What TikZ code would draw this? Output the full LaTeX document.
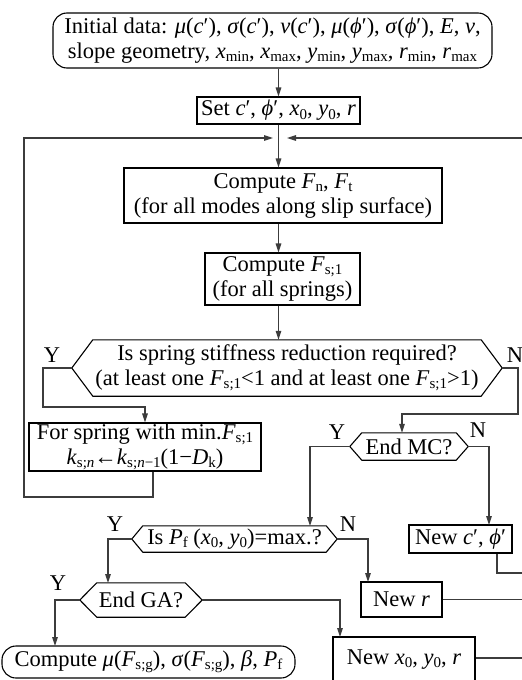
\documentclass[tikz,border=0pt]{standalone}
\usepackage{fontspec}
\setmainfont{Liberation Serif}
\usetikzlibrary{arrows.meta,calc}
\newcommand\mv[1]{\textit{#1}}
\newcommand\sbs[1]{\raisebox{-0.32ex}{\fontsize{15}{15}\selectfont #1}}
\newcommand\hexnode[6]{%
  \node[hexbox,minimum width=#3,minimum height=#4] (#1) at #2 {#6};
  \draw[boxline] (#1.west) -- ([xshift=#5]#1.north west) -- ([xshift=-#5]#1.north east) -- (#1.east) -- ([xshift=-#5]#1.south east) -- ([xshift=#5]#1.south west) -- cycle;}
\definecolor{linegray}{RGB}{60,60,60}
\tikzset{
  boxline/.style={draw=black,line width=1.1pt},
  stepbox/.style={boxline,inner sep=0pt,align=center,font=\fontsize{22.5}{25}\selectfont},
  roundbox/.style={stepbox,rounded corners=14pt},
  hexbox/.style={inner sep=0pt,align=center,font=\fontsize{22.5}{25}\selectfont},
  lbl/.style={inner sep=0pt,font=\fontsize{22.5}{25}\selectfont},
  conn/.style={draw=linegray,line width=1.3pt},
  arr/.style={conn,-{Triangle[length=9pt,width=5.5pt]}},
}
\begin{document}
\begin{tikzpicture}[x=1pt,y=-1pt]
\useasboundingbox (0,0) rectangle (522,680);
% nodes
\node[roundbox,minimum width=439,minimum height=55] (init) at (272.5,40.5)
  {Initial data: \mv{μ}(\mv{c}′), \mv{σ}(\mv{c}′), \mv{ν}(\mv{c}′), \mv{μ}(\mv{ϕ}′), \mv{σ}(\mv{ϕ}′), \mv{E}, \mv{ν},\\
   slope geometry, \mv{x}\sbs{min}, \mv{x}\sbs{max}, \mv{y}\sbs{min}, \mv{y}\sbs{max}, \mv{r}\sbs{min}, \mv{r}\sbs{max}};
\node[stepbox,minimum width=163,minimum height=27] (set) at (278.5,110.5)
  {Set \mv{c}′, \mv{ϕ}′, \mv{x}\sbs{0}, \mv{y}\sbs{0}, \mv{r}};
\node[stepbox,minimum width=318,minimum height=55] (comp1) at (283,195.5)
  {Compute \mv{F}\sbs{n}, \mv{F}\sbs{t}\\(for all modes along slip surface)};
\node[stepbox,minimum width=155,minimum height=52] (comp2) at (282.5,279)
  {Compute \mv{F}\sbs{s;1}\\(for all springs)};
\hexnode{hexA}{(287,368)}{430}{56}{21}
  {Is spring stiffness reduction required?\\(at least one \mv{F}\sbs{s;1}<1 and at least one \mv{F}\sbs{s;1}>1)}
\node[stepbox,minimum width=232,minimum height=48] (spring) at (145,447)
  {For spring with min.\mv{F}\sbs{s;1}\\\mv{k}\sbs{s;\mv{n}}←\mv{k}\sbs{s;\mv{n}−1}(1−\mv{D}\sbs{k})};
\hexnode{hexMC}{(409,446.5)}{118}{27}{12}{End MC?}
\node[stepbox,minimum width=103,minimum height=28] (newc) at (460.5,539)
  {New \mv{c}′, \mv{ϕ}′};
\hexnode{hexPf}{(234.5,539)}{205}{26}{11}
  {Is \mv{P}\sbs{f} (\mv{x}\sbs{0}, \mv{y}\sbs{0})=max.?}
\node[stepbox,minimum width=81,minimum height=35] (newr) at (401.5,599.5)
  {New \mv{r}};
\hexnode{hexGA}{(141,600)}{122}{34}{17}{End GA?}
\node[roundbox,minimum width=293,minimum height=32] (final) at (148.5,662)
  {Compute \mv{μ}(\mv{F}\sbs{s;g}), \mv{σ}(\mv{F}\sbs{s;g}), \mv{β}, \mv{P}\sbs{f}};
\node[stepbox,minimum width=142,minimum height=45] (newx) at (404,659.5)
  {New \mv{x}\sbs{0}, \mv{y}\sbs{0}, \mv{r}};
% labels
\node[lbl] (yA) at (52,355) {Y};
\node[lbl] (nA) at (515,355) {N};
\node[lbl] (yMC) at (337,432) {Y};
\node[lbl] (nMC) at (478,430) {N};
\node[lbl] (yPf) at (115,524) {Y};
\node[lbl] (nPf) at (348,524) {N};
\node[lbl] (yGA) at (58,583) {Y};
% coordinates
\coordinate (J) at (279,138);
\coordinate (Rtop) at (524,138);
\coordinate (Rbot) at (524,658);
% connectors
\draw[arr] (init.south -| set.north) -- (set.north);
\draw[arr] (set.south) -- (set.south |- comp1.north);
\draw[arr] (set.south |- comp1.south) -- (set.south |- comp2.north);
\draw[arr] (set.south |- comp2.south) -- (set.south |- hexA.north);
\draw[arr] (hexA.west) -| (43,407) -| (spring.north);
\draw[arr,shorten >=6pt] ([xshift=8]spring.south) |- (24,497) |- (J);
\draw[arr] (hexA.east) -| (518,414) -| ([xshift=-7]hexMC.north);
\draw[arr] (hexMC.west) -| (310,526);
\draw[arr] (hexMC.east) -| (489,525);
\draw[arr] (hexPf.west) -| (108,583);
\draw[arr] (hexPf.east) -| (368,582);
\draw[arr] (hexGA.west) -| (55,646);
\draw[arr] (hexGA.east) -| (340,637);
\draw[conn] ([xshift=36.5]newc.south) |- (524,573);
\draw[conn] (newr.east) -- (524,599.5);
\draw[conn] (newx.east |- Rbot) -- (Rbot);
\draw[arr,shorten >=8pt] (Rbot) -- (Rtop) -- (J);
\end{tikzpicture}
\end{document}
